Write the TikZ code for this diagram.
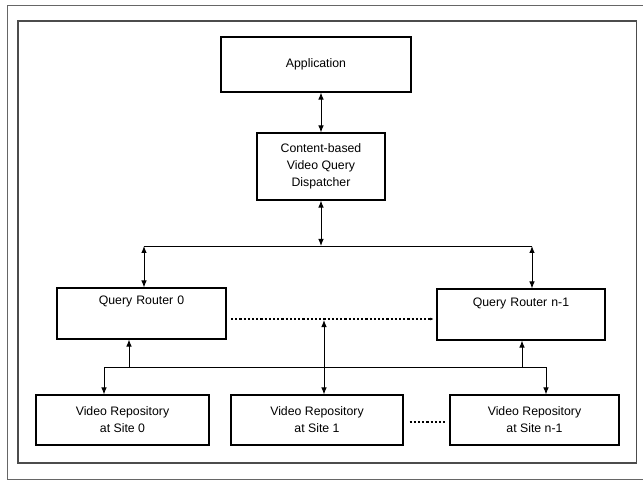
\documentclass[tikz,border=0pt]{standalone}
\usepackage{fontspec}
\setmainfont{Liberation Sans}
\usepackage{tikz}
\usetikzlibrary{arrows.meta}

\tikzset{
	box/.style={draw,line width=1.1pt,inner sep=0pt,align=center,font=\fontsize{12.3}{17}\selectfont},
	router/.style={box,text height=17pt,text depth=34pt},
	link/.style={line width=0.9pt},
	dots/.style={line width=2.4pt,dash pattern=on 2.2pt off 2pt}
}

\begin{document}
\begin{tikzpicture}[x=1pt,y=-1pt,>={Latex[length=7pt,width=5.5pt]}]
	\useasboundingbox (0,0) rectangle (643,481);
	\draw[gray!80!black,line width=0.9pt] (660,5) -- (7,5) -- (7,479.5) -- (660,479.5);
	\draw[black!70,line width=1.4pt] (18,21) rectangle (636.5,463);

	\node[box,minimum width=190pt,minimum height=55pt] (app) at (316,64.5) {Application};
	\node[box,minimum width=128pt,minimum height=67pt] (disp) at (321,166.5) {Content-based\\Video Query\\Dispatcher};

	\node[router,text width=169pt] (qr0) at (141.5,313.5) {Query Router 0};
	\node[router,text width=168pt] (qrN) at (521,314.5) {Query Router n-1};

	\node[box,minimum width=173pt,minimum height=50pt] (vr0) at (122.5,420) {Video Repository\\at Site 0};
	\node[box,minimum width=172pt,minimum height=50pt] (vr1) at (317,420) {Video Repository\\at Site 1};
	\node[box,minimum width=169pt,minimum height=50pt] (vrN) at (534.5,420) {Video Repository\\at Site n-1};

	\coordinate (busL) at (144,246);
	\coordinate (busR) at (532,246);
	\coordinate (midtop) at (324,320);
	\coordinate (lbusL) at (104,367);
	\coordinate (lbusR) at (546,367);
	\coordinate (up0) at (129,367);
	\coordinate (upN) at (522,367);

	\draw[link,<->] (disp.north |- app.south) -- (disp.north);
	\draw[link,<->] (disp.south) -- (disp.south |- busL);
	\draw[link] (busL) -- (busR);
	\draw[link,<->] (busL) -- (busL |- qr0.north);
	\draw[link,<->] (busR) -- (busR |- qrN.north);

	\draw[dots,-{Latex[length=3pt,width=3pt]}] (231,319) -- ([xshift=-3pt]qrN.west |- 0,319);
	\draw[link,<->] (midtop) -- (midtop |- vr1.north);

	\draw[link] (lbusL) -- (lbusR);
	\draw[link,->] (lbusL) -- (lbusL |- vr0.north);
	\draw[link,->] (lbusR) -- (lbusR |- vrN.north);
	\draw[link,->] (up0) -- (up0 |- qr0.south);
	\draw[link,->] (upN) -- (upN |- qrN.south);

	\draw[dots] ([xshift=6pt]vr1.east |- 0,422) -- ([xshift=-4pt]vrN.west |- 0,422);
\end{tikzpicture}
\end{document}
